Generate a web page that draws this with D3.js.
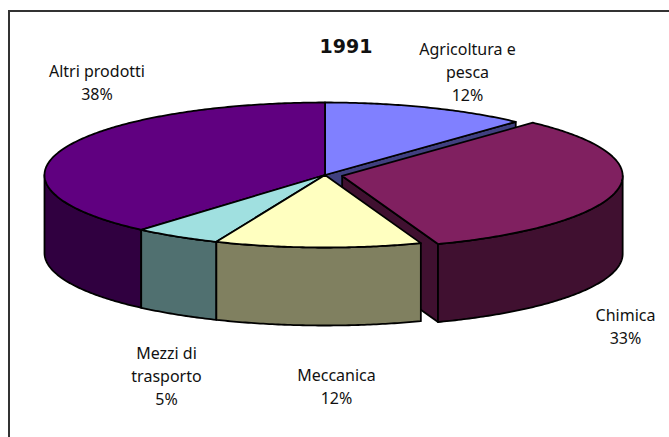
<!DOCTYPE html>
<html>
<head>
<meta charset="utf-8">
<script src="https://cdn.jsdelivr.net/npm/d3@7"></script>
<style>
html, body { margin: 0; padding: 0; background: #fff; overflow: hidden; }
text { font-family: "Noto Sans", sans-serif; font-size: 16px; fill: #111; text-anchor: middle; }
text.title { font-family: "DejaVu Sans", sans-serif; font-size: 19px; font-weight: bold; }
</style>
</head>
<body>
<div id="main"></div>
<script>
// values
const categories = ['Agricoltura e pesca', 'Chimica', 'Meccanica', 'Mezzi di trasporto', 'Altri prodotti'];
const values = [11.9, 32.55, 11.88, 5.04, 38.63];
const labelLines = [['Agricoltura e', 'pesca', '12%'], ['Chimica', '33%'], ['Meccanica', '12%'], ['Mezzi di', 'trasporto', '5%'], ['Altri prodotti', '38%']];
const topColors = ['#8080ff', '#802060', '#ffffc0', '#a0e0e0', '#600080'];
const sideColors = ['#404080', '#401030', '#808060', '#507070', '#300040'];
const titleText = '1991';

let width = 669, height = 437;
let cx = 325, cy = 175, rx = 280.5, ry = 72.5, depth = 78;
let explodeBy = { 'Chimica': 17.5 };

let svg = d3.select('#main').append('svg')
	.attr('width', width)
	.attr('height', height)
	.style('display', 'block');

// frame, only top and left sides show up
svg.append('line').attr('x1', 8).attr('x2', width).attr('y1', 11).attr('y2', 11)
	.attr('stroke', '#333').attr('stroke-width', 2);
svg.append('line').attr('x1', 9).attr('x2', 9).attr('y1', 10).attr('y2', height)
	.attr('stroke', '#333').attr('stroke-width', 2);

let x = d3.scaleLinear().domain([-1, 1]).range([cx - rx, cx + rx]);
let y = d3.scaleLinear().domain([-1, 1]).range([cy - ry, cy + ry]);
let line = d3.line().x(d => d[0]).y(d => d[1]);

let pie = d3.pie().sort(null).value(d => d.value);
let slices = pie(categories.map((name, i) => ({
	name: name, value: values[i], lines: labelLines[i], top: topColors[i], side: sideColors[i]
})));

// offset for exploded slices, pushed along the middle of the slice
slices.forEach(s => {
	let mid = (s.startAngle + s.endAngle) / 2;
	let r = (explodeBy[s.data.name] || 0) / rx;
	s.dx = x(r * Math.sin(mid)) - x(0);
	s.dy = y(-r * Math.cos(mid)) - y(0);
});

let rim = (s, a, drop) => [x(Math.sin(a)) + s.dx, y(-Math.cos(a)) + s.dy + (drop || 0)];

let arcPoints = (s, a0, a1, drop) => {
	let n = Math.max(2, Math.ceil((a1 - a0) * 90));
	return d3.range(n + 1).map(i => rim(s, a0 + (a1 - a0) * i / n, drop));
};

let draw = (points, fill) => {
	svg.append('path')
		.attr('d', line(points) + 'Z')
		.attr('fill', fill)
		.attr('stroke', '#000')
		.attr('stroke-width', 1.8)
		.attr('stroke-linejoin', 'round');
};

let drawSlice = s => {
	let centre = [x(0) + s.dx, y(0) + s.dy];
	let centreLow = [centre[0], centre[1] + depth];
	// cut face on the end of the slice, only when it looks towards us
	if (s.endAngle < Math.PI) {
		draw([centre, rim(s, s.endAngle), rim(s, s.endAngle, depth), centreLow], s.data.side);
	}
	// outer wall, front half of the ellipse only
	let a0 = Math.max(s.startAngle, Math.PI / 2);
	let a1 = Math.min(s.endAngle, Math.PI * 1.5);
	if (a1 > a0) {
		draw(arcPoints(s, a0, a1, 0).concat(arcPoints(s, a0, a1, depth).reverse()), s.data.side);
	}
	draw([centre].concat(arcPoints(s, s.startAngle, s.endAngle, 0)), s.data.top);
};

// back to front
[0, 1, 4, 3, 2].forEach(i => drawSlice(slices[i]));

svg.append('text').attr('class', 'title')
	.attr('x', 346).attr('y', 53)
	.text(titleText);

// label centre and first baseline
let labelAt = {
	'Agricoltura e pesca': [467.5, 54.5],
	'Chimica': [625.5, 321],
	'Meccanica': [336.5, 381],
	'Mezzi di trasporto': [166.5, 359],
	'Altri prodotti': [97, 77]
};
let lineGap = 23;

slices.forEach(s => {
	let pos = labelAt[s.data.name];
	svg.selectAll(null)
		.data(s.data.lines)
		.enter()
		.append('text')
		.attr('x', pos[0])
		.attr('y', (d, i) => pos[1] + i * lineGap)
		.text(d => d);
});
</script>
</body>
</html>
